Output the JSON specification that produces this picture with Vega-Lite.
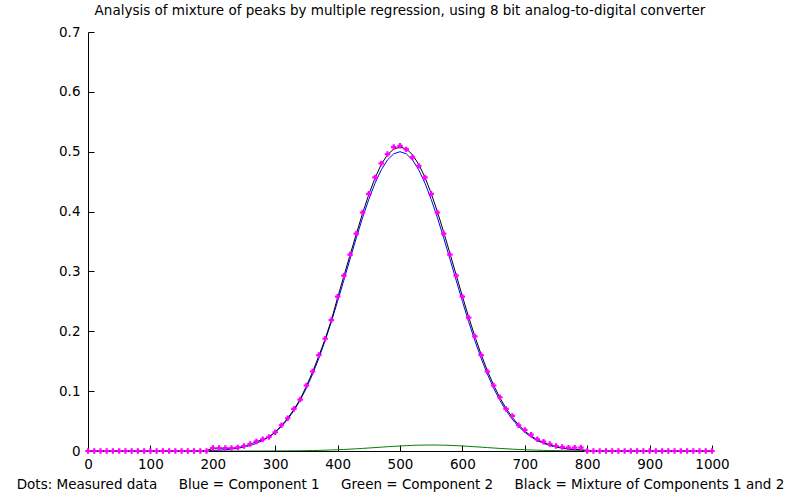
{
  "$schema": "https://vega.github.io/schema/vega-lite/v6.json",
  "width": 624,
  "height": 419,
  "autosize": {"type": "none"},
  "padding": {"left": 88, "top": 32, "right": 87, "bottom": 46},
  "background": "white",
  "config": {
    "view": {"stroke": null},
    "font": "DejaVu Sans",
    "axis": {
      "domainColor": "black", "domainWidth": 1,
      "tickColor": "black", "tickWidth": 1, "tickSize": -6,
      "labelColor": "black", "labelFont": "DejaVu Sans", "labelFontSize": 13.5,
      "titleColor": "black", "titleFont": "DejaVu Sans", "titleFontSize": 13.5, "titleFontWeight": "normal",
      "grid": false
    }
  },
  "title": {
    "text": "Analysis of mixture of peaks by multiple regression, using 8 bit analog-to-digital converter",
    "font": "DejaVu Sans", "fontSize": 13.5, "fontWeight": "normal", "color": "black",
    "anchor": "middle", "offset": 8
  },
  "data": {"values": [
    {"x": 0, "m": 0, "c1": 0, "c2": 0, "f": 0},
    {"x": 10, "m": 0, "c1": 0, "c2": 0, "f": 0},
    {"x": 20, "m": 0, "c1": 0, "c2": 0, "f": 0},
    {"x": 30, "m": 0, "c1": 0, "c2": 0, "f": 0},
    {"x": 40, "m": 0, "c1": 0, "c2": 0, "f": 0},
    {"x": 50, "m": 0, "c1": 0, "c2": 0, "f": 0},
    {"x": 60, "m": 0, "c1": 0, "c2": 0, "f": 0},
    {"x": 70, "m": 0, "c1": 0, "c2": 0, "f": 0},
    {"x": 80, "m": 0, "c1": 0, "c2": 0, "f": 0},
    {"x": 90, "m": 0, "c1": 0, "c2": 0, "f": 0},
    {"x": 100, "m": 0, "c1": 0, "c2": 0, "f": 0},
    {"x": 110, "m": 0, "c1": 0, "c2": 0, "f": 0},
    {"x": 120, "m": 0, "c1": 0, "c2": 0, "f": 0},
    {"x": 130, "m": 0, "c1": 0.00004, "c2": 0, "f": 0.00004},
    {"x": 140, "m": 0, "c1": 0.00006, "c2": 0, "f": 0.00006},
    {"x": 150, "m": 0, "c1": 0.0001, "c2": 0, "f": 0.0001},
    {"x": 160, "m": 0, "c1": 0.00017, "c2": 0, "f": 0.00017},
    {"x": 170, "m": 0, "c1": 0.00026, "c2": 0, "f": 0.00026},
    {"x": 180, "m": 0, "c1": 0.00041, "c2": 0, "f": 0.00041},
    {"x": 190, "m": 0, "c1": 0.00064, "c2": 0, "f": 0.00064},
    {"x": 200, "m": 0.005, "c1": 0.00098, "c2": 0, "f": 0.0045},
    {"x": 210, "m": 0.005, "c1": 0.00147, "c2": 0, "f": 0.0045},
    {"x": 220, "m": 0.005, "c1": 0.00219, "c2": 0, "f": 0.0045},
    {"x": 230, "m": 0.005, "c1": 0.0032, "c2": 0, "f": 0.0045},
    {"x": 240, "m": 0.006, "c1": 0.00461, "c2": 0, "f": 0.0055},
    {"x": 250, "m": 0.0084, "c1": 0.00657, "c2": 0.00002, "f": 0.008},
    {"x": 260, "m": 0.0117, "c1": 0.00924, "c2": 0.00003, "f": 0.0115},
    {"x": 270, "m": 0.016, "c1": 0.01279, "c2": 0.00004, "f": 0.0155},
    {"x": 280, "m": 0.0195, "c1": 0.01746, "c2": 0.00006, "f": 0.0192},
    {"x": 290, "m": 0.0234, "c1": 0.02354, "c2": 0.00009, "f": 0.0236},
    {"x": 300, "m": 0.0313, "c1": 0.03125, "c2": 0.00013, "f": 0.0313},
    {"x": 310, "m": 0.043, "c1": 0.04094, "c2": 0.00018, "f": 0.0425},
    {"x": 320, "m": 0.0547, "c1": 0.05292, "c2": 0.00026, "f": 0.0545},
    {"x": 330, "m": 0.0703, "c1": 0.06748, "c2": 0.00035, "f": 0.0695},
    {"x": 340, "m": 0.0859, "c1": 0.08479, "c2": 0.00046, "f": 0.086},
    {"x": 350, "m": 0.1094, "c1": 0.10511, "c2": 0.00063, "f": 0.1085},
    {"x": 360, "m": 0.1328, "c1": 0.12854, "c2": 0.00082, "f": 0.132},
    {"x": 370, "m": 0.1602, "c1": 0.15498, "c2": 0.00106, "f": 0.159},
    {"x": 380, "m": 0.1875, "c1": 0.18429, "c2": 0.00135, "f": 0.187},
    {"x": 390, "m": 0.2188, "c1": 0.21612, "c2": 0.0017, "f": 0.2185},
    {"x": 400, "m": 0.2578, "c1": 0.25, "c2": 0.0021, "f": 0.256},
    {"x": 410, "m": 0.293, "c1": 0.28515, "c2": 0.00257, "f": 0.292},
    {"x": 420, "m": 0.3281, "c1": 0.32086, "c2": 0.0031, "f": 0.3275},
    {"x": 430, "m": 0.3633, "c1": 0.35601, "c2": 0.00369, "f": 0.3625},
    {"x": 440, "m": 0.3984, "c1": 0.38958, "c2": 0.00432, "f": 0.397},
    {"x": 450, "m": 0.4297, "c1": 0.42045, "c2": 0.005, "f": 0.4285},
    {"x": 460, "m": 0.457, "c1": 0.44751, "c2": 0.0057, "f": 0.456},
    {"x": 470, "m": 0.4805, "c1": 0.46976, "c2": 0.00642, "f": 0.479},
    {"x": 480, "m": 0.4961, "c1": 0.48633, "c2": 0.00712, "f": 0.495},
    {"x": 490, "m": 0.5078, "c1": 0.49654, "c2": 0.00779, "f": 0.5045},
    {"x": 500, "m": 0.5098, "c1": 0.5, "c2": 0.00841, "f": 0.5075},
    {"x": 510, "m": 0.5039, "c1": 0.49654, "c2": 0.00895, "f": 0.505},
    {"x": 520, "m": 0.4906, "c1": 0.48633, "c2": 0.0094, "f": 0.495},
    {"x": 530, "m": 0.4766, "c1": 0.46976, "c2": 0.00973, "f": 0.479},
    {"x": 540, "m": 0.457, "c1": 0.44751, "c2": 0.00993, "f": 0.4574},
    {"x": 550, "m": 0.4297, "c1": 0.42045, "c2": 0.01, "f": 0.4305},
    {"x": 560, "m": 0.3984, "c1": 0.38958, "c2": 0.00993, "f": 0.3995},
    {"x": 570, "m": 0.3633, "c1": 0.35601, "c2": 0.00973, "f": 0.3657},
    {"x": 580, "m": 0.3281, "c1": 0.32086, "c2": 0.0094, "f": 0.3303},
    {"x": 590, "m": 0.293, "c1": 0.28515, "c2": 0.00895, "f": 0.2941},
    {"x": 600, "m": 0.2578, "c1": 0.25, "c2": 0.00841, "f": 0.2584},
    {"x": 610, "m": 0.2227, "c1": 0.21612, "c2": 0.00779, "f": 0.2239},
    {"x": 620, "m": 0.1914, "c1": 0.18429, "c2": 0.00712, "f": 0.1914},
    {"x": 630, "m": 0.1602, "c1": 0.15498, "c2": 0.00642, "f": 0.1614},
    {"x": 640, "m": 0.1328, "c1": 0.12854, "c2": 0.0057, "f": 0.1342},
    {"x": 650, "m": 0.1094, "c1": 0.10511, "c2": 0.005, "f": 0.1101},
    {"x": 660, "m": 0.0898, "c1": 0.08479, "c2": 0.00432, "f": 0.0891},
    {"x": 670, "m": 0.0703, "c1": 0.06748, "c2": 0.00369, "f": 0.0712},
    {"x": 680, "m": 0.0586, "c1": 0.05292, "c2": 0.0031, "f": 0.056},
    {"x": 690, "m": 0.043, "c1": 0.04094, "c2": 0.00257, "f": 0.0435},
    {"x": 700, "m": 0.0352, "c1": 0.03125, "c2": 0.0021, "f": 0.0334},
    {"x": 710, "m": 0.0273, "c1": 0.02354, "c2": 0.0017, "f": 0.0252},
    {"x": 720, "m": 0.0195, "c1": 0.01746, "c2": 0.00135, "f": 0.0188},
    {"x": 730, "m": 0.0156, "c1": 0.01279, "c2": 0.00106, "f": 0.0139},
    {"x": 740, "m": 0.0117, "c1": 0.00924, "c2": 0.00082, "f": 0.0101},
    {"x": 750, "m": 0.0084, "c1": 0.00657, "c2": 0.00063, "f": 0.0072},
    {"x": 760, "m": 0.0065, "c1": 0.00461, "c2": 0.00046, "f": 0.0051},
    {"x": 770, "m": 0.0055, "c1": 0.0032, "c2": 0.00035, "f": 0.0036},
    {"x": 780, "m": 0.0055, "c1": 0.00219, "c2": 0.00026, "f": 0.0025},
    {"x": 790, "m": 0.0055, "c1": 0.00147, "c2": 0.00018, "f": 0.0017},
    {"x": 800, "m": 0, "c1": 0.00098, "c2": 0.00013, "f": 0.0011},
    {"x": 810, "m": 0, "c1": 0.00064, "c2": 0.00009, "f": 0.0007},
    {"x": 820, "m": 0, "c1": 0.00041, "c2": 0.00006, "f": 0.0005},
    {"x": 830, "m": 0, "c1": 0.00026, "c2": 0.00004, "f": 0.0003},
    {"x": 840, "m": 0, "c1": 0.00017, "c2": 0.00003, "f": 0.0002},
    {"x": 850, "m": 0, "c1": 0.0001, "c2": 0.00002, "f": 0.0001},
    {"x": 860, "m": 0, "c1": 0.00006, "c2": 0, "f": 0.00006},
    {"x": 870, "m": 0, "c1": 0.00004, "c2": 0, "f": 0.00004},
    {"x": 880, "m": 0, "c1": 0, "c2": 0, "f": 0},
    {"x": 890, "m": 0, "c1": 0, "c2": 0, "f": 0},
    {"x": 900, "m": 0, "c1": 0, "c2": 0, "f": 0},
    {"x": 910, "m": 0, "c1": 0, "c2": 0, "f": 0},
    {"x": 920, "m": 0, "c1": 0, "c2": 0, "f": 0},
    {"x": 930, "m": 0, "c1": 0, "c2": 0, "f": 0},
    {"x": 940, "m": 0, "c1": 0, "c2": 0, "f": 0},
    {"x": 950, "m": 0, "c1": 0, "c2": 0, "f": 0},
    {"x": 960, "m": 0, "c1": 0, "c2": 0, "f": 0},
    {"x": 970, "m": 0, "c1": 0, "c2": 0, "f": 0},
    {"x": 980, "m": 0, "c1": 0, "c2": 0, "f": 0},
    {"x": 990, "m": 0, "c1": 0, "c2": 0, "f": 0},
    {"x": 1000, "m": 0, "c1": 0, "c2": 0, "f": 0}
  ]},
  "encoding": {
    "x": {
      "field": "x", "type": "quantitative",
      "scale": {"domain": [0, 1000], "nice": false, "zero": false},
      "title": "Dots: Measured data\u00a0\u00a0\u00a0\u00a0 Blue = Component 1\u00a0\u00a0\u00a0\u00a0 Green = Component 2\u00a0\u00a0\u00a0\u00a0 Black = Mixture of Components 1 and 2",
      "axis": {
        "values": [0, 100, 200, 300, 400, 500, 600, 700, 800, 900, 1000],
        "format": "d",
        "labelFlush": false, "labelPadding": 12, "titlePadding": 7, "labelOverlap": false,
        "titleLimit": 0
      }
    }
  },
  "layer": [
    {
      "mark": {"type": "line", "color": "#0000ff", "strokeWidth": 1, "clip": true},
      "encoding": {
        "y": {
          "field": "c1", "type": "quantitative", "title": null,
          "scale": {"domain": [0, 0.7], "nice": false},
          "axis": {"values": [0, 0.1, 0.2, 0.3, 0.4, 0.5, 0.6, 0.7], "format": "~g", "labelPadding": 14, "labelOverlap": false}
        }
      }
    },
    {
      "mark": {"type": "line", "color": "#000000", "strokeWidth": 1, "clip": true},
      "encoding": {"y": {"field": "f", "type": "quantitative", "title": null}}
    },
    {
      "mark": {"type": "line", "color": "#008000", "strokeWidth": 1, "clip": true},
      "encoding": {"y": {"field": "c2", "type": "quantitative", "title": null}}
    },
    {
      "mark": {"type": "point", "shape": "cross", "size": 30, "filled": true, "color": "#ff00ff", "opacity": 1},
      "encoding": {"y": {"field": "m", "type": "quantitative", "title": null}}
    }
  ]
}
